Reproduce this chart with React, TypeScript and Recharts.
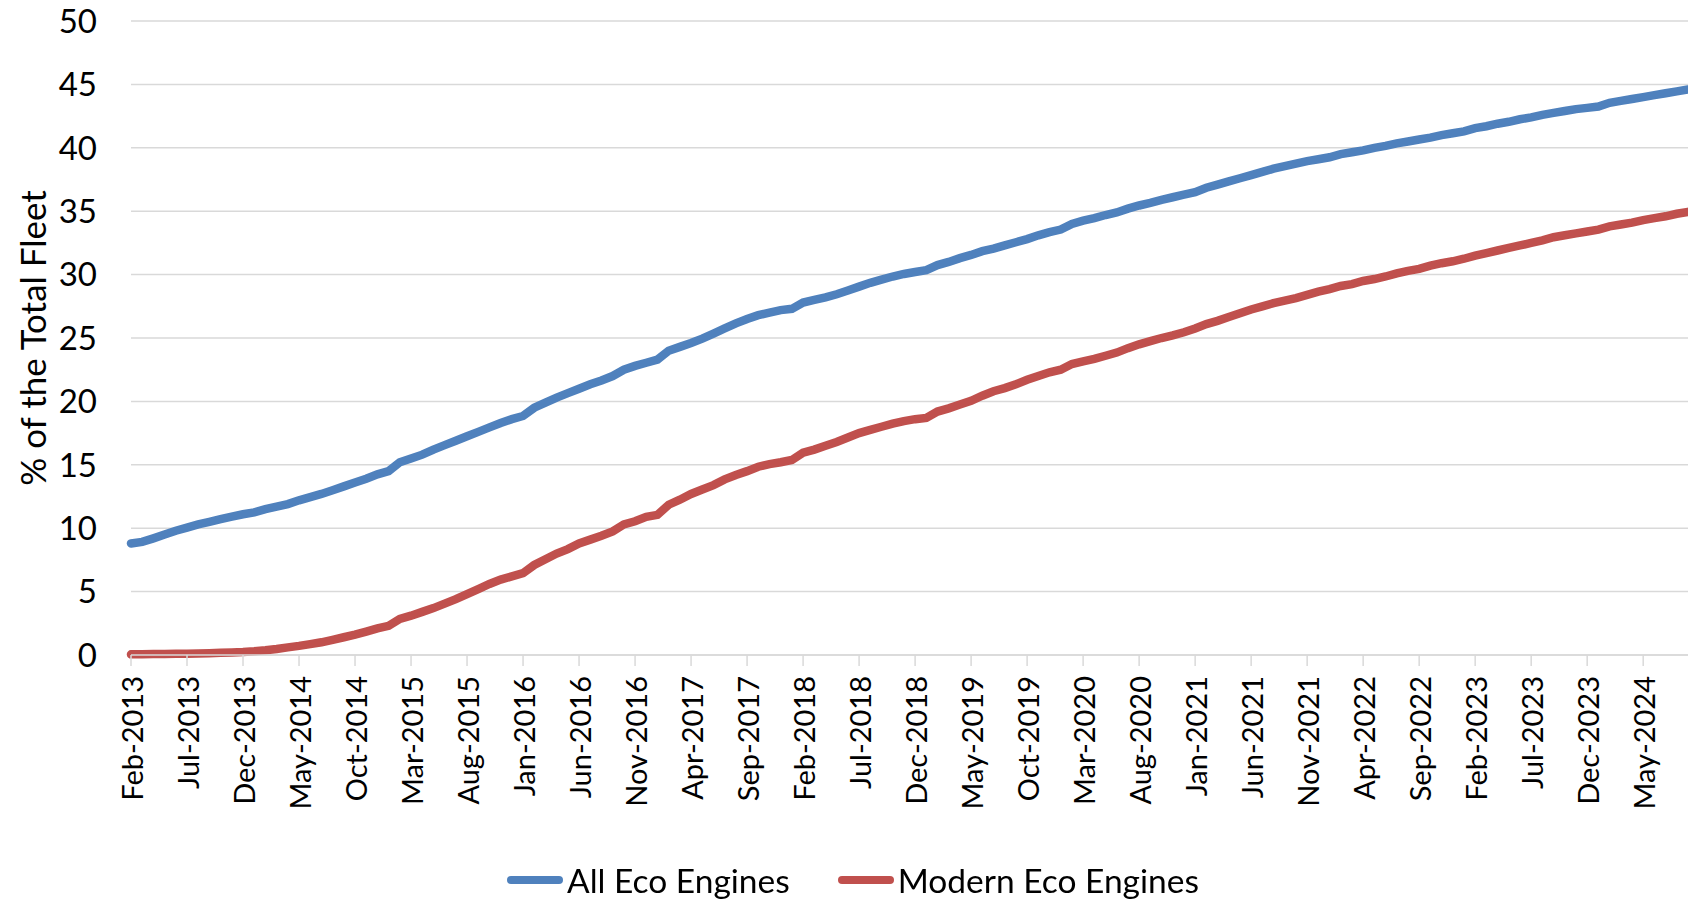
import { LineChart, Line, XAxis, YAxis, CartesianGrid } from "recharts";

const MONTH_NAMES = ["Jan", "Feb", "Mar", "Apr", "May", "Jun", "Jul", "Aug", "Sep", "Oct", "Nov", "Dec"];

// monthly categories, Feb-2013 .. Sep-2024
const months: string[] = Array.from({ length: 140 }, (_, i) => {
  const m = (1 + i) % 12;
  const y = 2013 + Math.floor((1 + i) / 12);
  return `${MONTH_NAMES[m]}-${y}`;
});

const allEco = [
  8.8, 8.92, 9.2, 9.5, 9.8, 10.05, 10.3, 10.5, 10.72, 10.92, 11.1, 11.25,
  11.5, 11.7, 11.9, 12.2, 12.45, 12.7, 13.0, 13.3, 13.6, 13.9, 14.25, 14.5,
  15.2, 15.5, 15.8, 16.2, 16.55, 16.9, 17.25, 17.6, 17.95, 18.3, 18.6, 18.85,
  19.5, 19.9, 20.3, 20.65, 21.0, 21.35, 21.65, 22.0, 22.5, 22.8, 23.05, 23.3,
  24.0, 24.3, 24.6, 24.95, 25.35, 25.75, 26.15, 26.5, 26.8, 27.0, 27.2, 27.3,
  27.8, 28.0, 28.2, 28.45, 28.75, 29.05, 29.35, 29.6, 29.85, 30.05, 30.2, 30.35,
  30.75, 31.0, 31.3, 31.55, 31.85, 32.05, 32.3, 32.55, 32.8, 33.1, 33.35, 33.55,
  34.0, 34.25, 34.45, 34.7, 34.9, 35.2, 35.45, 35.65, 35.9, 36.1, 36.3, 36.5,
  36.85, 37.1, 37.35, 37.6, 37.85, 38.1, 38.35, 38.55, 38.75, 38.95, 39.1, 39.25,
  39.5, 39.65, 39.8, 40.0, 40.15, 40.35, 40.5, 40.65, 40.8, 41.0, 41.15, 41.3,
  41.55, 41.7, 41.9, 42.05, 42.25, 42.4, 42.6, 42.75, 42.9, 43.05, 43.15, 43.25,
  43.55, 43.7, 43.85, 44.0, 44.15, 44.3, 44.45, 44.6,
];

const modernEco = [
  0.05, 0.06, 0.07, 0.08, 0.09, 0.1, 0.12, 0.14, 0.17, 0.2, 0.24, 0.3,
  0.38, 0.48, 0.6, 0.72, 0.86, 1.0, 1.2, 1.4, 1.6, 1.85, 2.1, 2.3,
  2.85, 3.1, 3.4, 3.7, 4.05, 4.4, 4.8, 5.2, 5.6, 5.95, 6.2, 6.45,
  7.1, 7.55, 8.0, 8.35, 8.8, 9.1, 9.4, 9.75, 10.3, 10.55, 10.9, 11.05,
  11.85, 12.25, 12.7, 13.05, 13.4, 13.85, 14.2, 14.5, 14.85, 15.05, 15.2, 15.38,
  15.95, 16.2, 16.5, 16.8, 17.15, 17.5, 17.75, 18.0, 18.25, 18.45, 18.6, 18.7,
  19.2, 19.45, 19.75, 20.05, 20.45, 20.8, 21.05, 21.35, 21.7, 22.0, 22.3, 22.5,
  22.95, 23.15, 23.35, 23.6, 23.85, 24.2, 24.5, 24.75, 25.0, 25.2, 25.45, 25.75,
  26.1, 26.35, 26.65, 26.95, 27.25, 27.5, 27.75, 27.95, 28.15, 28.4, 28.65, 28.85,
  29.1, 29.25, 29.5, 29.65, 29.85, 30.1, 30.3, 30.45, 30.7, 30.9, 31.05, 31.25,
  31.5, 31.7, 31.9, 32.1, 32.3, 32.5, 32.7, 32.95, 33.1, 33.25, 33.4, 33.55,
  33.8, 33.95, 34.1, 34.3, 34.45, 34.6, 34.8, 34.95,
];

const yTicks = [0, 5, 10, 15, 20, 25, 30, 35, 40, 45, 50];

const series = [
  { key: "allEco", name: "All Eco Engines", color: "#4f81bd" },
  { key: "modernEco", name: "Modern Eco Engines", color: "#c0504d" },
];

const data = months.map((month, i) => ({
  month,
  allEco: allEco[i],
  modernEco: modernEco[i],
}));

const FONT = "Lato, 'Noto Sans', sans-serif";
const GRID = "#d9d9d9";

const XTick = ({ x, y, payload }: any) => (
  <text
    x={x}
    y={y + 8}
    transform={`rotate(-90, ${x}, ${y + 8})`}
    textAnchor="end"
    dominantBaseline="central"
    fontSize={29}
    fontFamily={FONT}
    fill="#000"
  >
    {payload.value}
  </text>
);

export default function App() {
  return (
    <div style={{ position: "fixed", left: 0, top: 0, width: 1688, height: 899, background: "#fff" }}>
      <LineChart width={1688} height={899} data={data} margin={{ top: 21, right: 0, left: 0, bottom: 0 }}>
        <CartesianGrid vertical={false} stroke={GRID} strokeWidth={1.5} />
        <XAxis
          dataKey="month"
          interval={4}
          height={244}
          tickSize={11}
          tickLine={{ stroke: GRID, strokeWidth: 1.5 }}
          axisLine={{ stroke: GRID, strokeWidth: 1.5 }}
          tick={<XTick />}
        />
        <YAxis
          domain={[0, 50]}
          ticks={yTicks}
          width={131}
          axisLine={false}
          tickLine={false}
          tickMargin={28}
          tick={{ fill: "#000", fontSize: 33, fontFamily: FONT }}
          label={{
            content: () => (
              <text
                x={32}
                y={338}
                transform="rotate(-90, 32, 338)"
                textAnchor="middle"
                dominantBaseline="central"
                fontSize={35}
                fontFamily={FONT}
                fill="#000"
              >
                % of the Total Fleet
              </text>
            ),
          }}
        />
        {series.map((s) => (
          <Line
            key={s.key}
            type="linear"
            dataKey={s.key}
            name={s.name}
            stroke={s.color}
            strokeWidth={8.5}
            strokeLinecap="round"
            dot={false}
            isAnimationActive={false}
          />
        ))}
      </LineChart>
      <div
        style={{
          position: "absolute",
          top: 860,
          left: 9,
          width: 1688,
          display: "flex",
          justifyContent: "center",
          alignItems: "center",
          fontFamily: FONT,
          fontSize: 33.5,
          color: "#000",
        }}
      >
        {series.map((s, i) => (
          <div key={s.key} style={{ display: "flex", alignItems: "center", marginLeft: i ? 48 : 0 }}>
            <span style={{ display: "inline-block", width: 56, height: 8, borderRadius: 4, background: s.color, marginRight: 4 }} />
            <span>{s.name}</span>
          </div>
        ))}
      </div>
    </div>
  );
}
